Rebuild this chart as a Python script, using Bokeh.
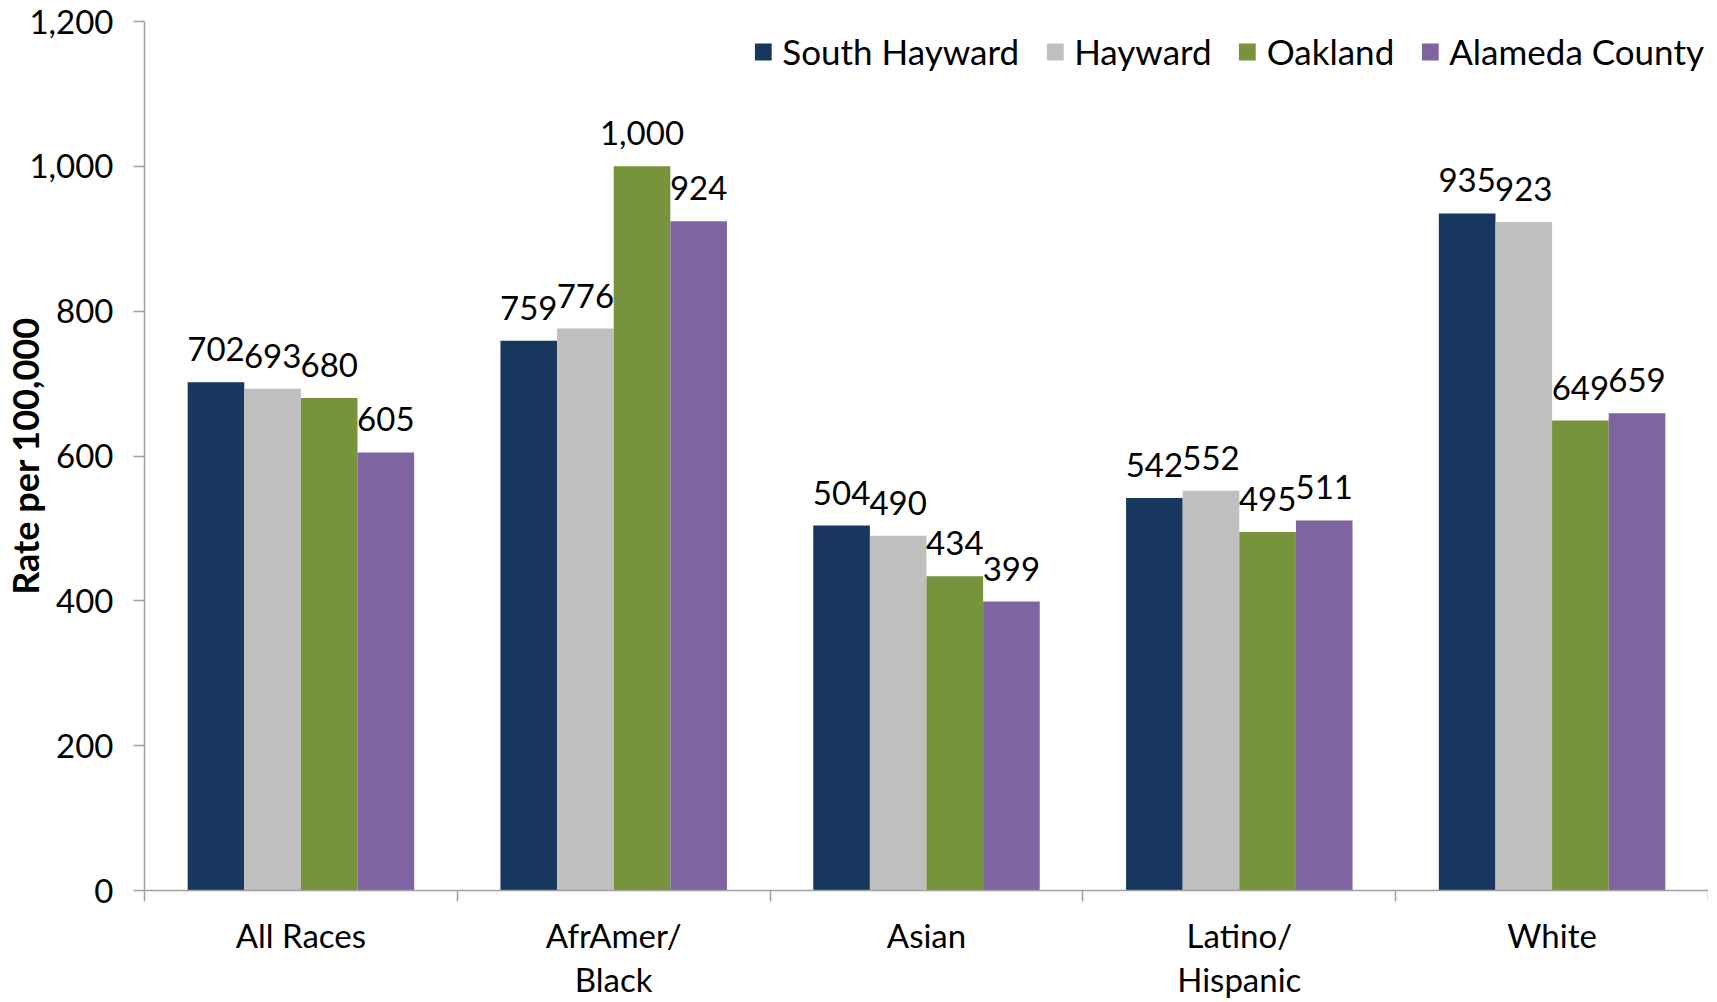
from bokeh.plotting import figure
from bokeh.models import ColumnDataSource, FixedTicker, NumeralTickFormatter, Range1d
from bokeh.core.properties import value
from bokeh.embed import file_html
from bokeh.resources import INLINE

# ---- data ----
categories = ["All Races", "AfrAmer/\nBlack", "Asian", "Latino/\nHispanic", "White"]
series = ["South Hayward", "Hayward", "Oakland", "Alameda County"]
south_hayward = [702, 759, 504, 542, 935]
hayward = [693, 776, 490, 552, 923]
oakland = [680, 1000, 434, 495, 649]
alameda_county = [605, 924, 399, 511, 659]
y_ticks = [0, 200, 400, 600, 800, 1000, 1200]
colors = ["#17375E", "#BFBFBF", "#77933C", "#8064A2"]

FONT = "Lato"
FS = "33px"
AXIS_COLOR = "#a0a0a0"

p = figure(width=1708, height=1001,
           x_range=Range1d(0, 2 * len(categories)), y_range=Range1d(0, 1200),
           output_backend="svg", toolbar_location=None,
           min_border_left=136, min_border_right=0,
           min_border_top=21, min_border_bottom=111)

bar_w = 0.362
all_series = [south_hayward, hayward, oakland, alameda_county]
for k, (name, vals, col) in enumerate(zip(series, all_series, colors)):
    xs = [2 * i + 1 + (k - 1.5) * bar_w for i in range(len(categories))]
    src = ColumnDataSource(dict(x=xs, top=vals, lab=["{:,}".format(v) for v in vals]))
    p.vbar(x="x", top="top", width=bar_w, bottom=0, source=src,
           fill_color=col, line_color=None, legend_label=name)
    p.text(x="x", y="top", text="lab", source=src, text_align="center",
           text_baseline="alphabetic", y_offset=-33,
           text_font=value(FONT), text_font_size=FS, text_color="black")

p.xgrid.visible = False
p.ygrid.visible = False
p.outline_line_color = None

# y axis
ya = p.yaxis[0]
ya.ticker = FixedTicker(ticks=y_ticks)
ya.formatter = NumeralTickFormatter(format="0,0")
ya.axis_line_color = AXIS_COLOR
ya.axis_line_width = 1.5
ya.major_tick_line_color = AXIS_COLOR
ya.major_tick_line_width = 1.5
ya.major_tick_out = 11
ya.major_tick_in = 0
ya.minor_tick_line_color = None
ya.major_label_standoff = 20
ya.major_label_text_font = FONT
ya.major_label_text_font_size = FS
ya.major_label_text_color = "black"
ya.axis_label = "Rate per 100,000"
ya.axis_label_text_font = FONT
ya.axis_label_text_font_style = "bold"
ya.axis_label_text_font_size = "36px"
ya.axis_label_text_color = "black"
ya.axis_label_standoff = -21

# x axis
xa = p.xaxis[0]
xa.ticker = FixedTicker(ticks=[2 * i + 1 for i in range(len(categories))],
                        minor_ticks=[2 * i for i in range(len(categories) + 1)])
xa.major_label_overrides = {2 * i + 1: c for i, c in enumerate(categories)}
xa.axis_line_color = AXIS_COLOR
xa.axis_line_width = 1.5
xa.major_tick_out = 0
xa.major_tick_in = 0
xa.minor_tick_out = 11
xa.minor_tick_in = 0
xa.minor_tick_line_color = AXIS_COLOR
xa.minor_tick_line_width = 1.5
xa.major_label_standoff = 13
xa.major_label_text_font = FONT
xa.major_label_text_font_size = FS
xa.major_label_text_color = "black"
xa.major_label_text_line_height = 1.1

# legend
lg = p.legend[0]
lg.location = "top_right"
lg.orientation = "horizontal"
lg.border_line_color = None
lg.background_fill_alpha = 0
lg.label_text_font = FONT
lg.label_text_font_size = "35px"
lg.label_text_color = "black"
lg.label_height = 52
lg.glyph_width = 21
lg.glyph_height = 21
lg.label_standoff = 9
lg.spacing = 25
lg.margin = 4
lg.padding = 6

open("out.html", "w").write(file_html(p, INLINE))
